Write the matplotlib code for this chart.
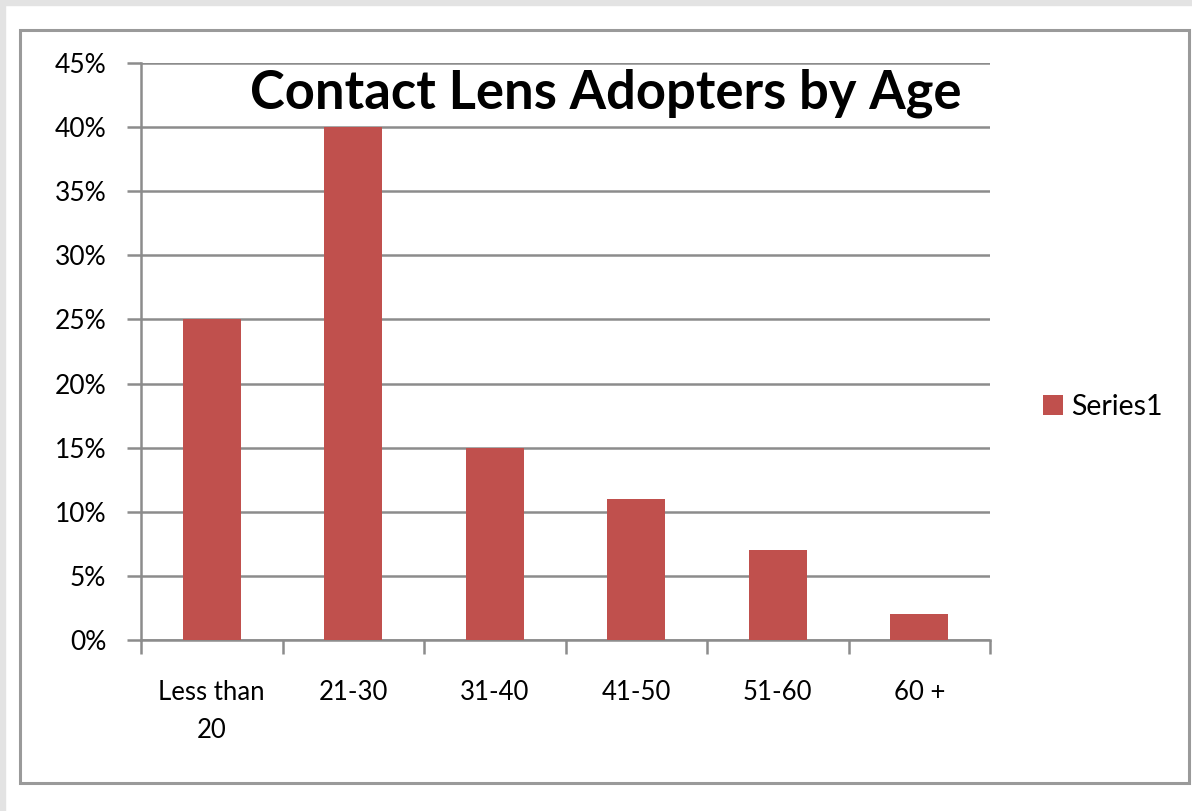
import matplotlib
matplotlib.use('Agg')
import matplotlib.pyplot as plt
from matplotlib.patches import Rectangle
import numpy as np

categories = ['Less than\n20', '21-30', '31-40', '41-50', '51-60', '60 +']
values = [25, 40, 15, 11, 7, 2]
yticks = [0, 5, 10, 15, 20, 25, 30, 35, 40, 45]
series_name = 'Series1'

W, H = 1192, 811
fig = plt.figure(figsize=(W/100, H/100), dpi=100)
fig.patch.set_facecolor('white')

# light gray band at top/left like the screenshot
fig.patches.append(Rectangle((0, 1-5/H), 1, 5/H, transform=fig.transFigure, color='#e3e3e3', zorder=0))
fig.patches.append(Rectangle((0, 0), 5/W, 1, transform=fig.transFigure, color='#e3e3e3', zorder=0))
# chart frame
fig.patches.append(Rectangle((20/W, 1-783/H), (1189-20)/W, (783-30)/H, transform=fig.transFigure,
                             fill=False, edgecolor='#9a9a9a', lw=2.2, zorder=1))

ax = fig.add_axes([141/W, 1-640/H, (990-141)/W, (640-63)/H])
x = np.arange(len(categories))
ax.bar(x, values, width=0.41, color='#C0504D', zorder=3, label=series_name)
ax.set_xlim(-0.5, len(categories)-0.5)
ax.set_ylim(0, 45)
ax.set_yticks(yticks)
ax.set_yticklabels([str(v)+'%' for v in yticks], fontsize=19, family='Lato')
ax.yaxis.grid(True, color='#8c8c8c', lw=1.8, zorder=0)
ax.set_axisbelow(True)

ax.set_xticks(x)
ax.set_xticklabels(categories, fontsize=18.5, family='Lato', linespacing=1.62)
ax.tick_params(axis='x', length=0, pad=29)
ax.set_xticks(np.arange(len(categories)+1)-0.5, minor=True)
ax.tick_params(axis='x', which='minor', length=10, width=1.8, color='#8c8c8c', direction='out')
ax.tick_params(axis='y', length=10, width=1.8, color='#8c8c8c', pad=15)

for s in ['top', 'right']:
    ax.spines[s].set_visible(False)
for s in ['left', 'bottom']:
    ax.spines[s].set_color('#8c8c8c')
    ax.spines[s].set_linewidth(1.8)

fig.text(606/W, 1-93/H, 'Contact Lens Adopters by Age', ha='center', va='center',
         fontsize=37.8, fontweight='bold', family='Lato')

leg = ax.legend(loc='center left', bbox_to_anchor=(1017/W, 1-407/H), bbox_transform=fig.transFigure,
                frameon=False, prop={'family': 'Lato', 'size': 20.5},
                handlelength=0.7, handleheight=0.7, handletextpad=0.3)

fig.savefig('out.png', dpi=100)
